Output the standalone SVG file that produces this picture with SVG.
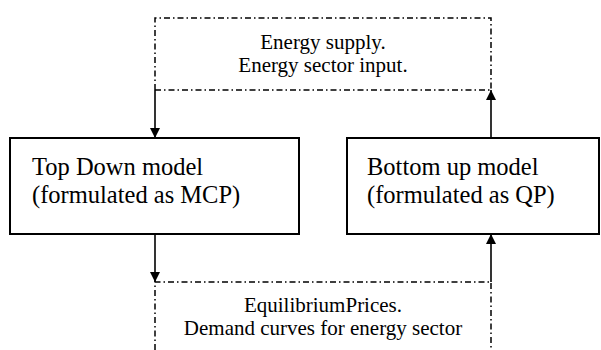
<svg xmlns="http://www.w3.org/2000/svg" width="601" height="350" viewBox="0 0 601 350">
<style>
  .box{fill:#fff;stroke:#000;stroke-width:2}
  .dash{fill:none;stroke:#000;stroke-width:1.5;stroke-dasharray:6 3 1.5 3}
  .arr{fill:none;stroke:#000;stroke-width:1.6}
  .bt{font-family:"Liberation Serif","Times New Roman",serif;font-size:24.5px;fill:#000}
  .lt{font-family:"Liberation Serif","Times New Roman",serif;font-size:21px;fill:#000;text-anchor:middle}
</style>
<defs>
  <marker id="ah" viewBox="0 0 10 10" refX="10" refY="5" markerWidth="10" markerHeight="10" markerUnits="userSpaceOnUse" orient="auto">
    <path d="M0,0 L10,5 L0,10 z" fill="#000"/>
  </marker>
</defs>
<g id="connectors">
  <path class="dash" d="M155,90 L155,18 L491,18 L491,90"/>
  <path class="dash" d="M155,90 L491,90"/>
  <path class="dash" d="M155,350 L155,282 L491,282 L491,350"/>
  <path class="arr" d="M155,90 L155,138" marker-end="url(#ah)"/>
  <path class="arr" d="M491,138 L491,90" marker-end="url(#ah)"/>
  <path class="arr" d="M155,234 L155,282" marker-end="url(#ah)"/>
  <path class="arr" d="M491,282 L491,234" marker-end="url(#ah)"/>
</g>
<g id="supply-label">
  <text class="lt" x="323" y="49">Energy supply.</text>
  <text class="lt" x="323" y="72">Energy sector input.</text>
</g>
<g id="top-down">
  <rect class="box" x="10" y="138" width="289" height="96"/>
  <text class="bt" x="32" y="175">Top Down model</text>
  <text class="bt" x="32" y="203">(formulated as MCP)</text>
</g>
<g id="bottom-up">
  <rect class="box" x="347" y="138" width="252" height="96"/>
  <text class="bt" x="367" y="175">Bottom up model</text>
  <text class="bt" x="367" y="203">(formulated as QP)</text>
</g>
<g id="prices-label">
  <text class="lt" x="323" y="312">EquilibriumPrices.</text>
  <text class="lt" x="323" y="335">Demand curves for energy sector</text>
</g>
</svg>
